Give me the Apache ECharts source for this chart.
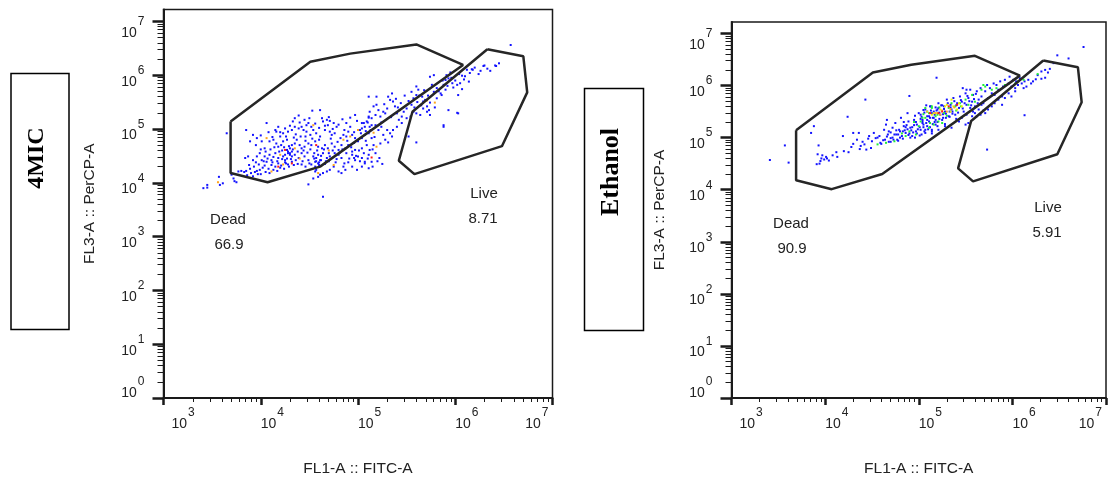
<!DOCTYPE html>
<html><head><meta charset="utf-8">
<script src="https://cdn.jsdelivr.net/npm/echarts@6/dist/echarts.min.js"></script>
<style>html,body{margin:0;padding:0;background:#fff}#chart{width:1109px;height:482px}</style>
</head><body><div id="chart"></div>
<script>
// ---------- DATA (log10 of fluorescence intensity) ----------
const panelNames = ['4MIC', 'Ethanol'];
const xTitle = 'FL1-A :: FITC-A';
const yTitle = 'FL3-A :: PerCP-A';
const xMajorTicks = [3, 4, 5, 6, 7];            // 10^3 .. 10^7
const yMajorTicks = [0, 1, 2, 3, 4, 5, 6, 7];   // 10^0 .. 10^7
const minorMultipliers = [2, 3, 4, 5, 6, 7, 8, 9];
const gateLabels = [['Dead', '66.9', 'Live', '8.71'], ['Dead', '90.9', 'Live', '5.91']];

// gates (same template in both panels), vertices in log10 units
const deadGate = [[3.69,5.14],[4.51,6.25],[4.92,6.40],[5.60,6.57],[6.08,6.19],[4.61,4.30],[4.07,4.01],[3.69,4.18],[3.69,5.14]];
const liveGate = [[6.33,6.48],[6.70,6.35],[6.74,5.68],[6.48,4.68],[5.58,4.16],[5.42,4.41],[5.56,5.32],[6.33,6.48]];

// 4MIC events
const leftBlue = [
[4.61,5.35],[4.53,5.34],[5.11,5.60],[4.33,5.14],[4.39,5.25],[4.35,5.20],[4.45,5.17],[4.47,5.07],[4.49,5.11],[4.52,5.04],[4.63,5.20],[4.64,5.14],[4.68,5.17],[4.69,5.07],[4.71,5.15],[4.75,5.11],[4.78,5.04],[4.92,5.21],[4.97,5.26],[4.88,5.11],[4.99,5.15],[5.04,5.11],[5.07,5.04],[5.11,5.21],[5.14,5.07],[4.90,4.95],
[3.85,4.98],[3.92,4.89],[4.06,5.11],[4.15,4.98],[4.16,4.95],[4.20,4.94],[4.23,4.92],[4.25,5.01],[4.28,4.95],[4.32,4.98],[4.35,5.04],[4.39,5.01],[4.42,5.04],[4.44,4.98],[4.47,4.95],[4.51,4.89],[4.54,4.98],[4.57,4.92],[4.61,4.86],[4.66,4.98],[4.71,4.95],[4.73,4.89],[4.76,4.92],[4.82,4.83],[4.85,4.89],[4.88,4.86],[4.94,4.89],[4.97,4.83],[5.00,4.77],[5.04,4.83],[5.07,4.89],[5.11,4.92],[5.14,4.83],
[3.89,4.77],[3.96,4.83],[4.01,4.77],[4.09,4.77],[4.13,4.80],[4.16,4.73],[4.18,4.67],[4.21,4.70],[4.23,4.77],[4.27,4.80],[4.30,4.64],[4.32,4.70],[4.35,4.73],[4.37,4.80],[4.40,4.70],[4.42,4.64],[4.45,4.67],[4.49,4.73],[4.52,4.70],[4.56,4.77],[4.59,4.67],[4.63,4.64],[4.66,4.70],[4.69,4.64],[4.73,4.73],[4.76,4.67],[4.80,4.61],[4.83,4.70],[4.87,4.64],[4.90,4.70],[4.94,4.58],[4.97,4.61],[5.04,4.64],[5.09,4.70],[5.12,4.61],[5.16,4.70],
[3.84,4.46],[3.87,4.49],[3.92,4.42],[3.96,4.49],[3.99,4.55],[4.01,4.42],[4.04,4.49],[4.06,4.39],[4.09,4.52],[4.11,4.42],[4.15,4.55],[4.18,4.46],[4.23,4.49],[4.25,4.42],[4.28,4.58],[4.30,4.55],[4.32,4.49],[4.35,4.52],[4.39,4.46],[4.42,4.55],[4.45,4.49],[4.49,4.42],[4.54,4.49],[4.56,4.39],[4.57,4.46],[4.59,4.52],[4.61,4.42],[4.64,4.55],[4.68,4.46],[4.71,4.49],[4.76,4.55],[4.80,4.52],[4.83,4.46],[4.88,4.55],[4.94,4.52],[4.97,4.42],[5.00,4.49],[5.04,4.46],[5.07,4.39],[5.11,4.52],[5.14,4.39],
[3.77,4.21],[3.80,4.22],[3.83,4.20],[3.85,4.22],[3.89,4.26],[3.90,4.18],[3.94,4.20],[3.97,4.16],[3.99,4.24],[4.02,4.28],[4.04,4.32],[4.08,4.26],[4.11,4.33],[4.15,4.30],[4.18,4.36],[4.21,4.32],[4.25,4.38],[4.28,4.34],[4.32,4.39],[4.56,4.30],[4.57,4.24],[4.61,4.15],[4.64,4.18],[4.68,4.21],[4.71,4.24],[4.75,4.30],[4.80,4.21],[4.83,4.18],[4.87,4.24],[4.94,4.30],[4.99,4.24],[5.04,4.30],[5.07,4.36],[5.11,4.27],
[4.49,3.97],[4.54,4.08],[4.59,4.11],[4.64,3.74],[4.56,4.21],
[3.41,3.90],[3.45,3.96],[3.45,3.91],[3.57,4.11],[3.58,3.96],[3.61,3.99],[3.65,4.92],[3.70,4.15],[3.73,4.03],[3.75,4.01],[3.72,4.08],
[4.27,4.61],[4.28,4.55],[4.30,4.52],[4.25,4.52],[4.32,4.58],[4.27,4.45],[4.57,4.40],[4.59,4.36],[4.62,4.42],[4.55,4.45],[4.60,4.33],
[3.88,4.33],[3.93,4.30],[3.95,4.38],[3.98,4.34],[4.00,4.62],[4.03,4.40],[4.05,4.58],[4.07,4.45],[4.10,4.62],[4.12,4.38],[4.13,4.48],[4.14,4.66],[4.17,4.40],[4.19,4.58],[4.20,4.86],[4.22,4.44],[4.24,4.66],[4.26,4.36],[4.26,4.86],[4.29,4.68],[4.31,4.44],[4.33,4.62],[4.34,4.84],[4.36,4.42],[4.38,4.58],[4.41,4.86],[4.43,4.40],[4.44,4.60],[4.46,4.78],[4.48,4.56],[4.50,4.36],[4.51,4.62],[4.53,4.82],[4.55,4.55],[4.58,4.60],[4.60,4.80],[4.62,4.50],[4.65,4.62],[4.67,4.40],[4.70,4.55],[4.72,4.82],[4.74,4.60],[4.77,4.38],[4.79,4.76],[4.81,4.56],[4.84,4.62],[4.86,4.36],[4.89,4.78],[4.91,4.45],[4.93,4.66],[4.96,4.74],[4.98,4.50],[5.01,4.60],[5.03,4.92],[5.06,4.55],[5.08,4.78],[5.10,4.45],[5.13,4.98],[5.15,4.62],[5.17,4.85],
[3.95,4.70],[4.00,4.88],[4.04,4.64],[4.08,4.94],[4.12,4.85],[4.18,5.04],[4.22,4.60],[4.30,5.06],[4.36,4.90],[4.40,5.12],[4.46,4.86],[4.50,5.20],[4.56,5.10],[4.60,5.02],[4.66,5.06],[4.70,5.22],[4.74,5.00],[4.80,5.08],[4.84,5.18],[4.86,4.98],[4.92,5.04],[4.96,4.94],[5.02,4.98],[5.08,4.96],[5.10,5.12],
[3.86,4.14],[3.92,4.12],[3.96,4.22],[4.00,4.16],[4.05,4.20],[4.09,4.18],[4.13,4.24],[4.17,4.22],[4.20,4.28],[4.24,4.26],[4.29,4.30],[4.34,4.33],[4.38,4.35],[4.42,4.34],[4.46,4.30],[4.52,4.34],[4.60,4.38],[4.66,4.35],[4.70,4.40],[4.78,4.44],[4.85,4.30],[4.90,4.38],[4.96,4.46],[5.02,4.40],
[6.57,6.56],[6.29,6.17],[6.42,6.17],[6.36,6.08],[6.26,6.08],[6.17,6.11],[6.12,6.10],[6.14,5.88],[6.09,5.92],[6.07,5.99],[6.05,5.85],[6.02,5.82],[5.98,5.77],[5.97,5.85],[5.93,5.94],[5.90,5.91],[5.88,5.82],[5.85,5.66],[5.81,5.76],[5.78,5.69],[5.74,5.97],[5.78,6.00],[5.91,6.00],[5.95,6.05],[6.07,5.74],[6.03,5.63],[5.93,5.35],[6.03,5.29],[5.88,5.04],[5.60,4.75],[5.52,4.86],[5.54,5.23],[5.74,5.26],[5.71,5.32],[5.67,5.38],[5.64,5.26],[5.60,5.29],[5.57,5.32],[5.55,5.45],[5.57,5.57],[5.60,5.63],[5.62,5.73],[5.66,5.60],[5.67,5.51],[5.69,5.54],[5.71,5.42],[5.73,5.35],[5.74,5.49],[5.81,5.57],[5.86,5.63],[5.90,5.73],[5.60,5.79],[5.55,5.69],[5.50,5.38],[5.47,5.32],[5.45,5.23],[5.43,5.35],[5.40,5.29],[5.38,5.42],[5.36,5.51],[5.35,5.66],[5.33,5.54],[5.30,5.38],[5.28,5.29],[5.26,5.32],[5.23,5.23],[5.21,5.35],[5.19,5.45],[5.16,5.42],[5.12,5.32],[5.14,5.20],[5.11,5.23],[5.09,5.14],[5.18,5.07],[5.21,4.98],[5.24,5.04],[5.26,4.89],[5.28,4.80],[5.31,4.75],[5.33,4.92],[5.19,5.60],[5.18,5.26],[5.12,5.04],[5.06,5.11],[5.04,5.01],[5.42,5.17],[5.45,5.11],[5.40,5.04],[5.36,4.98],[5.35,4.86],[5.30,4.98],[5.23,4.73],[5.18,4.55],[5.20,4.40],[5.25,4.35],[5.15,4.30],[5.22,4.46],[5.88,5.07],[6.02,5.30],[6.41,6.18],[6.30,6.18],[6.18,6.10],
[5.24,5.12],[5.27,5.46],[5.31,5.60],[5.34,5.22],[5.39,5.56],[5.41,5.40],[5.44,5.48],[5.48,5.62],[5.50,5.20],[5.52,5.52],[5.58,5.40],[5.61,5.50],[5.63,5.62],[5.65,5.44],[5.68,5.72],[5.72,5.62],[5.76,5.82],[5.79,5.40],[5.83,5.70],[5.87,5.90],[5.92,5.80],[5.96,5.95],[6.00,5.90],[6.04,6.02],[6.10,5.98],[6.15,6.04],[6.20,6.14],[6.24,6.02],[6.33,6.12],[6.45,6.22]
];
const leftOrange = [[4.06,4.83],[4.20,4.52],[4.23,4.34],[4.35,4.64],[4.54,5.07],[4.85,4.80],[4.92,4.86],[4.59,4.18],[4.75,4.33],[4.11,4.21],[3.56,4.01],[5.79,5.49],[5.71,5.53],[5.19,4.67],[5.00,4.98],[5.16,4.93],[4.40,4.45],[4.70,4.60]];
const leftRed = [[4.25,4.61],[4.18,4.30],[4.32,4.36],[4.57,4.70],[5.14,4.47]];

// Ethanol events
const rightBlue = [
[3.57,4.85],[3.61,4.52],[3.85,5.09],[3.88,5.22],[3.93,4.85],[3.92,4.68],[3.95,4.55],[3.99,4.58],[3.97,4.66],[4.01,4.63],[4.04,4.56],[3.91,4.49],[4.12,4.72],[4.13,4.63],[4.19,5.03],[4.24,5.40],[4.25,4.72],[4.30,5.09],[4.30,4.88],[4.36,5.09],[4.37,4.78],[4.38,4.84],[4.42,4.87],[4.43,5.73],[4.44,4.77],[4.49,4.80],[4.47,5.03],[4.50,4.93],[4.52,5.09],[4.54,4.99],[4.58,5.03],[4.59,4.90],[4.63,5.15],[4.65,5.25],[4.66,5.34],[4.68,5.12],[4.70,4.99],[4.72,5.19],[4.74,5.06],[4.75,5.28],[4.77,4.96],[4.79,5.15],[4.81,5.38],[4.82,5.03],[4.84,5.22],[4.86,5.09],[4.88,5.47],[4.89,5.31],[4.90,5.80],[4.91,5.19],[4.93,5.03],[4.95,5.34],[4.97,5.12],[4.98,5.25],[5.00,5.47],[5.02,5.15],[5.04,5.31],[5.05,5.53],[5.07,5.09],[5.09,5.22],[5.11,5.41],[5.12,5.28],[5.14,5.15],[5.16,5.50],[5.18,5.34],[5.20,5.22],[5.21,5.57],[3.41,4.57],
[4.62,4.95],[4.66,5.02],[4.70,5.10],[4.73,4.96],[4.76,5.14],[4.80,5.00],[4.83,5.12],[4.86,5.20],[4.89,5.05],[4.92,5.14],[4.95,5.24],[4.98,5.08],[5.01,5.20],[5.04,5.28],[5.06,5.12],[5.09,5.34],[5.12,5.20],[5.15,5.38],[5.17,5.30],[5.22,5.36],[5.26,5.45],[5.29,5.38],[5.33,5.50],[5.36,5.46],[4.68,4.92],[4.78,5.06],[4.88,5.16],[4.96,5.00],[5.03,5.40],[5.13,5.52],
[3.94,4.50],[3.96,4.60],[4.02,4.60],[4.08,4.66],[4.20,4.74],[4.28,4.82],[4.34,4.96],[4.40,4.92],[4.46,4.98],[4.56,5.00],
[4.72,5.00],[4.76,5.06],[4.80,5.12],[4.83,4.98],[4.85,5.14],[4.87,5.24],[4.90,5.08],[4.93,5.20],[4.94,5.10],[4.97,5.30],[4.99,5.16],[5.01,5.04],[5.02,5.36],[5.05,5.20],[5.06,5.48],[5.08,5.28],[5.10,5.16],[5.12,5.38],[5.13,5.60],[5.15,5.26],[5.17,5.44],[5.19,5.52],[5.20,5.30],[5.22,5.48],[5.24,5.62],[5.26,5.38],[5.27,5.55],[5.29,5.46],[5.31,5.66],[5.33,5.40],[5.34,5.58],[5.36,5.50],[5.38,5.70],[5.40,5.62],[5.42,5.48],[5.45,5.72],[5.47,5.56],[5.49,5.66],[5.52,5.80],[5.54,5.70],[5.56,5.62],[5.59,5.74],[5.61,5.84],[5.63,5.66],[4.60,4.88],[4.64,4.96],[4.67,5.06],[4.70,4.92],[4.78,4.94],[4.91,5.00],[5.03,5.06],[5.09,5.50],[5.18,5.58],[5.25,5.62],[4.84,5.30],[4.96,5.42],[5.08,5.62],[5.14,5.08],[5.28,5.26],[5.40,5.36],
[5.02,5.44],[5.04,5.34],[5.05,5.25],[5.07,5.54],[5.09,5.41],[5.11,5.31],[5.12,5.60],[5.14,5.47],[5.16,5.38],[5.18,5.25],[5.20,5.54],[5.21,5.66],[5.23,5.44],[5.25,5.34],[5.27,5.60],[5.28,5.50],[5.30,5.73],[5.32,5.41],[5.34,5.63],[5.35,5.54],[5.37,5.76],[5.39,5.44],[5.41,5.66],[5.43,5.57],[5.44,5.79],[5.46,5.69],[5.48,5.50],[5.50,5.85],[5.51,5.63],[5.53,5.76],[5.55,5.92],[5.57,5.69],[5.58,5.82],[5.60,5.60],[5.62,5.89],[5.64,5.73],[5.66,5.95],[5.67,5.79],[5.69,5.66],[5.71,5.89],[5.73,6.01],[5.74,5.76],[5.76,5.95],[5.78,5.85],[5.80,6.04],[5.81,5.82],[5.83,6.01],[5.85,5.92],[5.87,6.08],[5.89,5.79],[5.90,5.98],[5.92,6.11],[5.94,5.89],[5.96,6.04],[5.97,6.17],[5.99,5.98],[6.01,6.11],[6.03,5.95],[6.04,6.08],[6.06,6.01],[6.08,6.14],[6.10,6.04],[6.12,5.95],[6.13,6.08],[6.15,5.98],[6.17,6.11],[6.20,6.04],[6.22,6.08],[6.27,6.20],[6.31,6.27],[6.35,6.30],[6.35,6.15],[6.40,6.32],[6.44,6.43],[6.48,6.58],[6.60,6.52],[6.76,6.74],[6.13,5.43],[5.73,4.77],[5.19,6.15],[5.47,5.95],[5.51,5.92],[5.53,5.28],[5.57,5.41],[5.60,5.47],[5.64,5.54],[5.67,5.63],[5.71,5.47],[5.74,5.54],[5.78,5.60],[5.81,5.66],[5.85,5.73],[5.89,5.63],[5.92,5.76],[5.96,5.85],[5.99,5.79],[6.03,5.89],[5.50,5.25],[5.46,5.38],[5.43,5.31],[5.35,5.19],[5.28,5.22],[5.21,5.15],[5.14,5.12],[5.07,5.15],[5.51,5.44],[5.55,5.57],[5.58,5.50],[5.62,5.41],[5.66,5.44],[5.69,5.52],
[6.31,6.13],[6.38,6.25],[6.25,6.12]
];
const rightGreen = [[5.02,5.31],[5.07,5.38],[5.14,5.57],[5.20,5.44],[5.21,5.31],[5.27,5.47],[5.32,5.57],[5.35,5.66],[5.39,5.60],[5.44,5.66],[5.50,5.73],[5.53,5.63],[5.57,5.82],[5.60,5.69],[5.67,5.92],[5.71,5.98],[5.78,5.92],[5.83,5.95],[5.92,6.01],[6.03,6.04],[6.06,6.08],[6.12,6.11],[6.27,6.22],[5.69,6.01],[5.11,5.19],[5.16,5.25],[5.25,5.28],[4.56,4.87],[4.65,4.90],[4.74,4.93],[4.86,5.03],[4.97,5.06],[5.04,5.38],[5.07,5.57],[5.11,5.47],[5.14,5.60],[5.18,5.41],[5.00,5.22],[5.12,5.28],[4.95,5.30],[5.05,5.45],[5.22,5.58],[5.30,5.42],[4.90,5.12],[4.82,5.08],[5.40,5.52],[5.45,5.60]];
const rightYellow = [[5.14,5.44],[5.20,5.47],[5.23,5.54],[5.28,5.60],[5.34,5.50],[5.37,5.60],[5.41,5.54],[5.43,5.66],[5.46,5.60],[5.35,5.73],[5.30,5.63],[5.09,5.50],[5.16,5.47]];
const rightOrange = [[5.18,5.47],[5.25,5.52],[5.30,5.50],[5.38,5.58],[5.23,5.44],[5.34,5.55]];
const rightRed = [[5.21,5.47],[5.25,5.50],[5.41,5.63],[5.32,5.60],[5.12,5.47]];

// ---------- CHART ----------
const xMinorTicks = [], yMinorTicks = [];
for (let n = 3; n < 7; n++) minorMultipliers.forEach(k => xMinorTicks.push(n + Math.log10(k)));
for (let n = 0; n < 7; n++) minorMultipliers.forEach(k => yMinorTicks.push(n + Math.log10(k)));

const FONT = '"Liberation Sans", Arial, sans-serif';
const INK = '#1a1a1a';
const tokenBase = {fontFamily: FONT, fontSize: 14, color: '#222'};
const tokenSup = {fontFamily: FONT, fontSize: 12, color: '#222'};
const rich = {
  b:  Object.assign({}, tokenBase, {padding: [10, 0, 0, 0], verticalAlign: 'bottom'}),
  s:  Object.assign({}, tokenSup, {padding: [0, 0, 0, 1], verticalAlign: 'top'}),
  bt: Object.assign({}, tokenBase, {padding: [20, 0, 0, 0], verticalAlign: 'bottom'}),
  st: Object.assign({}, tokenSup, {padding: [10, 0, 0, 1], verticalAlign: 'top'}),
  bb: Object.assign({}, tokenBase, {padding: [10, 0, 23, 0], verticalAlign: 'bottom'}),
  sb: Object.assign({}, tokenSup, {padding: [0, 0, 0, 1], verticalAlign: 'top'}),
  g:  {width: 8, fontSize: 1},
  e:  {width: 4, fontSize: 1}
};
const xFmt = v => (v === 3 ? '{g| }' : '') + '{b|10}{s|' + v + '}' + (v === 7 ? '{e| }' : '');
const yFmt = v => v === 7 ? '{bt|10}{st|7}' : (v === 0 ? '{bb|10}{sb|0}' : '{b|10}{s|' + v + '}');

const grids = [
  {left: 163.5, top: 9.5, width: 389, height: 389.5},
  {left: 731.5, top: 22, width: 377.5, height: 378}
];
const yNameGap = [66, 64];

const xAxes = [], yAxes = [];
grids.forEach((g, i) => {
  xAxes.push({
    gridIndex: i, type: 'value', min: 3, max: 7, position: 'bottom',
    axisLine: {show: true, onZero: false, lineStyle: {color: INK, width: 2}},
    axisTick: {show: true, customValues: xMajorTicks, length: 7, lineStyle: {color: INK, width: 2.5}},
    axisLabel: {show: true, customValues: xMajorTicks, margin: 9, align: 'left', alignMaxLabel: 'right', formatter: xFmt, rich: rich},
    splitLine: {show: false},
    name: xTitle, nameLocation: 'middle', nameGap: 63,
    nameTextStyle: {fontFamily: FONT, fontSize: 15.5, color: '#222'}
  });
  xAxes.push({
    gridIndex: i, type: 'value', min: 3, max: 7, position: 'bottom',
    axisLine: {show: false, onZero: false},
    axisTick: {show: true, customValues: xMinorTicks, length: 4, lineStyle: {color: INK, width: 1}},
    axisLabel: {show: false}, splitLine: {show: false}
  });
  yAxes.push({
    gridIndex: i, type: 'value', min: 0, max: 7.22, position: 'left',
    axisLine: {show: true, onZero: false, lineStyle: {color: INK, width: 2}},
    axisTick: {show: true, customValues: yMajorTicks, length: 11, lineStyle: {color: INK, width: 2.5}},
    axisLabel: {show: true, customValues: yMajorTicks, margin: 19, padding: [3, 0, 0, 0], formatter: yFmt, rich: rich},
    splitLine: {show: false},
    name: yTitle, nameLocation: 'middle', nameGap: yNameGap[i], nameRotate: 90,
    nameTextStyle: {fontFamily: FONT, fontSize: 15.5, color: '#222'}
  });
  yAxes.push({
    gridIndex: i, type: 'value', min: 0, max: 7.22, position: 'left',
    axisLine: {show: false, onZero: false},
    axisTick: {show: true, customValues: yMinorTicks, length: 6, lineStyle: {color: INK, width: 1}},
    axisLabel: {show: false}, splitLine: {show: false}
  });
});

function dots(data, axis, color) {
  return {type: 'scatter', xAxisIndex: axis, yAxisIndex: axis, data: data, symbol: 'rect',
          symbolSize: 2, itemStyle: {color: color, opacity: 1}, silent: true, z: 2};
}
function gate(data, axis) {
  return {type: 'line', xAxisIndex: axis, yAxisIndex: axis, data: data, symbol: 'none',
          lineStyle: {color: '#262626', width: 2.5}, silent: true, z: 5};
}
const BLUE = '#1212ff', GREEN = '#1fef3a', YELLOW = '#e8ee00', ORANGE = '#ffa41c', RED = '#ff1a1a';

const series = [
  dots(leftBlue, 0, BLUE), dots(leftOrange, 0, ORANGE), dots(leftRed, 0, RED),
  gate(deadGate, 0), gate(liveGate, 0),
  dots(rightBlue, 2, BLUE), dots(rightGreen, 2, GREEN), dots(rightYellow, 2, YELLOW),
  dots(rightOrange, 2, ORANGE), dots(rightRed, 2, RED),
  gate(deadGate, 2), gate(liveGate, 2)
];

function sideBox(x, y, w, h, cx, cy, text, size) {
  return [
    {type: 'rect', shape: {x: x, y: y, width: w, height: h},
     style: {fill: '#fff', stroke: '#000', lineWidth: 1.5}},
    {type: 'text', x: cx, y: cy, rotation: Math.PI / 2,
     style: {text: text, font: 'bold ' + size + 'px "Liberation Serif", "Times New Roman", serif',
             fill: '#000', align: 'center', verticalAlign: 'middle', textAlign: 'center', textVerticalAlign: 'middle'}}
  ];
}
function statText(x, y, text) {
  return {type: 'text', x: x, y: y,
          style: {text: text, font: '15px ' + FONT, fill: '#222', align: 'center', verticalAlign: 'middle',
                  textAlign: 'center', textVerticalAlign: 'middle'}};
}
const graphic = [].concat(
  sideBox(11, 73.5, 58, 256, 36.5, 158, panelNames[0], 24),
  sideBox(584.5, 88.5, 59, 242, 611, 172, panelNames[1], 26),
  [statText(228, 220, gateLabels[0][0]), statText(229, 245, gateLabels[0][1]),
   statText(484, 194, gateLabels[0][2]), statText(483, 219, gateLabels[0][3]),
   statText(791, 224, gateLabels[1][0]), statText(792, 249, gateLabels[1][1]),
   statText(1048, 208, gateLabels[1][2]), statText(1047, 233, gateLabels[1][3])]
);

const chart = echarts.init(document.getElementById('chart'), null, {renderer: 'canvas'});
chart.setOption({
  backgroundColor: '#fff',
  animation: false,
  grid: grids.map(g => Object.assign({show: true, borderColor: INK, borderWidth: 1.5, backgroundColor: 'transparent'}, g)),
  xAxis: xAxes,
  yAxis: yAxes,
  series: series,
  graphic: graphic
});
</script></body></html>
